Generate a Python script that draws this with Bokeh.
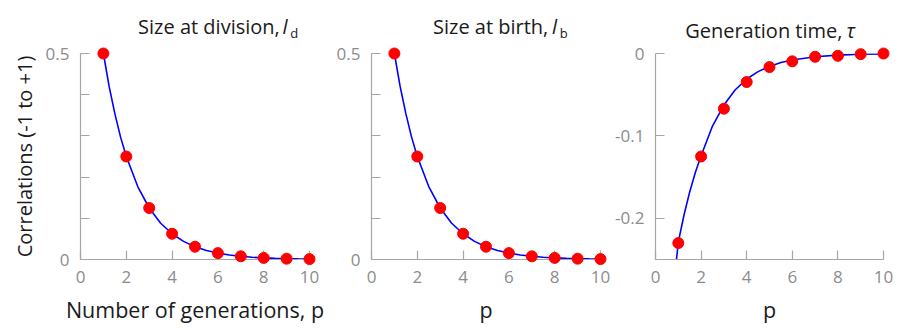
from bokeh.plotting import figure
from bokeh.layouts import row
from bokeh.models import Range1d, FixedTicker
from bokeh.embed import file_html
from bokeh.resources import INLINE
from bokeh.core.properties import value

# ---------------- data ----------------
generations = [1, 2, 3, 4, 5, 6, 7, 8, 9, 10]
corr_size_division = [0.5, 0.25, 0.125, 0.0625, 0.031, 0.0155, 0.0078, 0.0039, 0.002, 0.001]
corr_size_birth = [0.5, 0.25, 0.125, 0.0625, 0.031, 0.0155, 0.0078, 0.0039, 0.002, 0.001]
corr_gen_time = [-0.230, -0.125, -0.067, -0.0346, -0.0165, -0.0095, -0.004, -0.0028, -0.0008, 0.0]

# fitted curves
curve_size_x = [1, 1.25, 1.5, 1.75, 2, 2.5, 3, 3.5, 4, 4.5, 5, 5.5, 6, 6.5, 7, 7.5, 8, 8.5, 9, 9.5, 10]
curve_size_y = [0.5, 0.42, 0.354, 0.297, 0.25, 0.177, 0.125, 0.088, 0.0625, 0.044, 0.031, 0.022,
                0.0156, 0.011, 0.0078, 0.0055, 0.0039, 0.0028, 0.002, 0.0014, 0.001]
curve_time_x = [0.92, 0.96, 1.0, 1.25, 1.5, 1.75, 2, 2.5, 3, 3.5, 4, 4.5, 5, 5.5, 6, 7, 8, 9, 10]
curve_time_y = [-0.25, -0.24, -0.229, -0.196, -0.168, -0.144, -0.124, -0.088, -0.0626, -0.044,
                -0.031, -0.022, -0.0157, -0.011, -0.0079, -0.004, -0.002, -0.001, -0.0005]

x_ticks = [0, 2, 4, 6, 8, 10]
y_ticks_size = [0, 0.1, 0.2, 0.3, 0.4, 0.5]
y_ticks_time = [-0.2, -0.1, 0]

titles = ["Size at division,", "Size at birth,", "Generation time,"]
title_symbols = ["l", "l", "τ"]
title_subscripts = ["d", "b", ""]
y_label = "Correlations (-1 to +1)"
x_labels = ["Number of generations, p", "p", "p"]

FONT = "Open Sans"
AXIS_COL = "#a6a6a6"
TICK_LABEL_COL = "#8c8c8c"
TEXT_COL = "#1a1a1a"


def make_fig(width, y_start, y_end, yticks, ylabels, mb_left, mb_right, mb_top, xlabel, ylab=None):
    p = figure(width=width, height=330, output_backend="svg", toolbar_location=None,
               x_range=Range1d(0, 10), y_range=Range1d(y_start, y_end),
               min_border_left=mb_left, min_border_right=mb_right,
               min_border_top=mb_top, min_border_bottom=71)
    p.outline_line_color = None
    p.xgrid.grid_line_color = None
    p.ygrid.grid_line_color = None
    p.background_fill_color = "white"
    p.border_fill_color = "white"
    for ax in (p.xaxis[0], p.yaxis[0]):
        ax.axis_line_color = AXIS_COL
        ax.axis_line_width = 1.2
        ax.major_tick_line_color = AXIS_COL
        ax.major_tick_line_width = 1.2
        ax.major_tick_in = 9
        ax.major_tick_out = 0
        ax.minor_tick_line_color = None
        ax.major_label_text_font = FONT
        ax.major_label_text_font_size = "17px"
        ax.major_label_text_color = TICK_LABEL_COL
        ax.major_label_standoff = 11
        ax.axis_label_text_font = FONT
        ax.axis_label_text_font_style = "normal"
        ax.axis_label_text_color = TEXT_COL
    xa = p.xaxis[0]
    xa.ticker = FixedTicker(ticks=x_ticks)
    xa.axis_label = xlabel
    xa.axis_label_text_font_size = "21.5px"
    xa.axis_label_standoff = 9
    ya = p.yaxis[0]
    ya.ticker = FixedTicker(ticks=yticks)
    ya.major_label_overrides = ylabels
    if ylab:
        ya.axis_label = ylab
        ya.axis_label_text_font_size = "20px"
        ya.axis_label_standoff = 5
    return p


size_labels = {0: "0", 0.1: "", 0.2: "", 0.3: "", 0.4: "", 0.5: "0.5"}
time_labels = {-0.2: "-0.2", -0.1: "-0.1", 0: "0"}

f1 = make_fig(330, 0, 0.5, y_ticks_size, size_labels, 80, 21, 53, x_labels[0], y_label)
f2 = make_fig(282, 0, 0.5, y_ticks_size, size_labels, 41, 12, 53, x_labels[1])
f3 = make_fig(286, -0.25, 0.0, y_ticks_time, time_labels, 43, 15, 49, x_labels[2])

curves = [(curve_size_x, curve_size_y), (curve_size_x, curve_size_y), (curve_time_x, curve_time_y)]
points = [corr_size_division, corr_size_birth, corr_gen_time]
for f, (cx, cy), pts in zip([f1, f2, f3], curves, points):
    f.line(cx, cy, line_color="#0000ff", line_width=1.6)
    r = f.scatter(generations, pts, size=11, fill_color="#ff0000", line_color="#ff0000")
    r.level = "overlay"

# titles (text with italic symbol and subscript), drawn unclipped above the frame
title_pos = [
    # fig, x_end_main, x_sym, x_sub, y_base, y_sub
    (f1, 8.7, 8.82, 9.16, 0.5655, 0.549),
    (f2, 7.72, 7.88, 8.22, 0.5655, 0.549),
    (f3, 8.2, 8.38, None, 0.0274, None),
]


def overlay_text(f, x, y, t, align, size, style="normal"):
    r = f.text(x=[x], y=[y], text=[t], text_align=align, text_baseline="alphabetic",
               text_font=value(FONT), text_font_size=value(size), text_font_style=style,
               text_color=TEXT_COL)
    r.level = "overlay"


for (f, xm, xs, xsub, yb, ysub), t, sym, sub in zip(title_pos, titles, title_symbols, title_subscripts):
    overlay_text(f, xm, yb, t, "right", "20px")
    overlay_text(f, xs, yb, sym, "left", "20px", "italic")
    if sub:
        overlay_text(f, xsub, ysub, sub, "left", "13px")

layout = row(f1, f2, f3)
open("out.html", "w").write(file_html(layout, INLINE))
